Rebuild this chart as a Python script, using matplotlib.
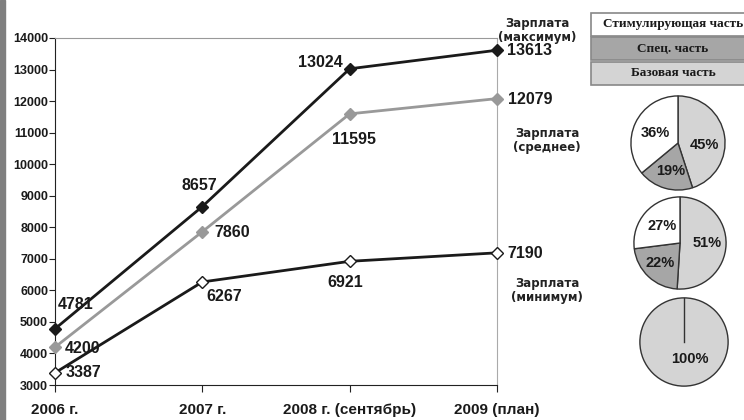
import matplotlib.pyplot as plt
from matplotlib.patches import Rectangle

plt.rcParams['font.family'] = ['Liberation Sans', 'DejaVu Sans']

# данные
years = ['2006 г.', '2007 г.', '2008 г. (сентябрь)', '2009 (план)']
zp_max = [4781, 8657, 13024, 13613]
zp_mean = [4200, 7860, 11595, 12079]
zp_min = [3387, 6267, 6921, 7190]

parts = ['Стимулирующая часть', 'Спец. часть', 'Базовая часть']
pie1 = [45, 19, 36]   # базовая, спец, стимул.
pie2 = [51, 22, 27]
pie3 = [100]

# смещения подписей (пиксели)
off_max = [(21, 24), (-3, 21), (-29, 6), (33, 0)]
off_mean = [(28, -1), (30, -1), (4, -26), (33, -1)]
off_min = [(28, 0), (22, -15), (-4, -21), (28, -1)]

W, H = 744, 420
fig = plt.figure(figsize=(7.44, 4.2), dpi=100)
fig.patches.append(Rectangle((0, 0), 5 / W, 1, transform=fig.transFigure,
                             color='#7f7f7f', zorder=0))

ax = fig.add_axes([55 / W, 35 / H, 442 / W, 347 / H])
x = range(len(years))
ax.plot(x, zp_min, color='#1a1a1a', lw=2, marker='D', ms=6,
        mfc='white', mec='#1a1a1a', mew=1, clip_on=False, zorder=3)
ax.plot(x, zp_mean, color='#999999', lw=2, marker='D', ms=6,
        mfc='#999999', mec='#999999', clip_on=False, zorder=3)
ax.plot(x, zp_max, color='#1a1a1a', lw=2, marker='D', ms=6,
        mfc='#1a1a1a', mec='#1a1a1a', clip_on=False, zorder=4)

for vals, offs in [(zp_max, off_max), (zp_mean, off_mean), (zp_min, off_min)]:
    for i, (v, o) in enumerate(zip(vals, offs)):
        ax.annotate(str(v), (i, v), xytext=o, textcoords='offset pixels',
                    ha='center', va='center', fontsize=11.5,
                    fontweight='bold', color='#1a1a1a')

ax.set_xlim(0, 3)
ax.set_ylim(3000, 14000)
ax.set_yticks(range(3000, 14001, 1000))
ax.set_xticks(list(x))
ax.set_xticklabels(years, fontsize=11, fontweight='bold', color='#1a1a1a')
ax.tick_params(axis='x', length=5, pad=8, color='#222222')
ax.tick_params(axis='y', length=4, pad=1, labelsize=9, color='#222222')
for t in ax.get_yticklabels():
    t.set_fontweight('bold')
    t.set_color('#1a1a1a')
ax.spines['left'].set_color('#222222')
ax.spines['bottom'].set_color('#222222')
ax.spines['top'].set_color('#999999')
ax.spines['right'].set_color('#aaaaaa')

lbl = dict(family=['DejaVu Sans'], fontsize=8.5, fontweight='bold',
           ha='center', va='center', color='#222222', linespacing=1.1)
fig.text(537 / W, 1 - 30 / H, 'Зарплата\n(максимум)', **lbl)
fig.text(547 / W, 1 - 141 / H, 'Зарплата\n(среднее)', **lbl)
fig.text(547 / W, 1 - 291 / H, 'Зарплата\n(минимум)', **lbl)

# легенда
box_cols = ['white', '#a6a6a6', '#d4d4d4']
box_y = [13, 37, 62]
for name, c, y in zip(parts, box_cols, box_y):
    fig.patches.append(Rectangle((591 / W, 1 - (y + 23) / H), 164 / W, 23 / H,
                                 transform=fig.transFigure, facecolor=c,
                                 edgecolor='#888888', lw=1.2))
    fig.text(673 / W, 1 - (y + 11.5) / H, name, family=['Liberation Serif'],
             fontsize=9.5, fontweight='bold', ha='center', va='center',
             color='#1a1a1a')

# круговые диаграммы
pie_cols = ['#d4d4d4', '#a6a6a6', 'white']
pies = [(pie1, 678, 143, 48, [(0.56, -0.04), (-0.15, -0.6), (-0.48, 0.21)]),
        (pie2, 680, 243, 47, [(0.6, 0.0), (-0.43, -0.43), (-0.38, 0.36)]),
        (pie3, 684, 342, 45, [(0.13, -0.38)])]
for vals, cx, cy, r, pos in pies:
    pa = fig.add_axes([(cx - r) / W, 1 - (cy + r) / H, 2 * r / W, 2 * r / H])
    pa.pie(vals, colors=pie_cols[:len(vals)], startangle=90, counterclock=False,
           wedgeprops=dict(edgecolor='#333333', linewidth=1))
    if len(vals) == 1:
        pa.plot([0, 0], [0, 1], color='#333333', lw=1)
    for v, (px, py) in zip(vals, pos):
        pa.text(px, py, f'{v}%', ha='center', va='center', fontsize=10.5,
                fontweight='bold', color='#1a1a1a')
    pa.set_xlim(-1.02, 1.02)
    pa.set_ylim(-1.02, 1.02)

fig.savefig('out.png', dpi=100)
